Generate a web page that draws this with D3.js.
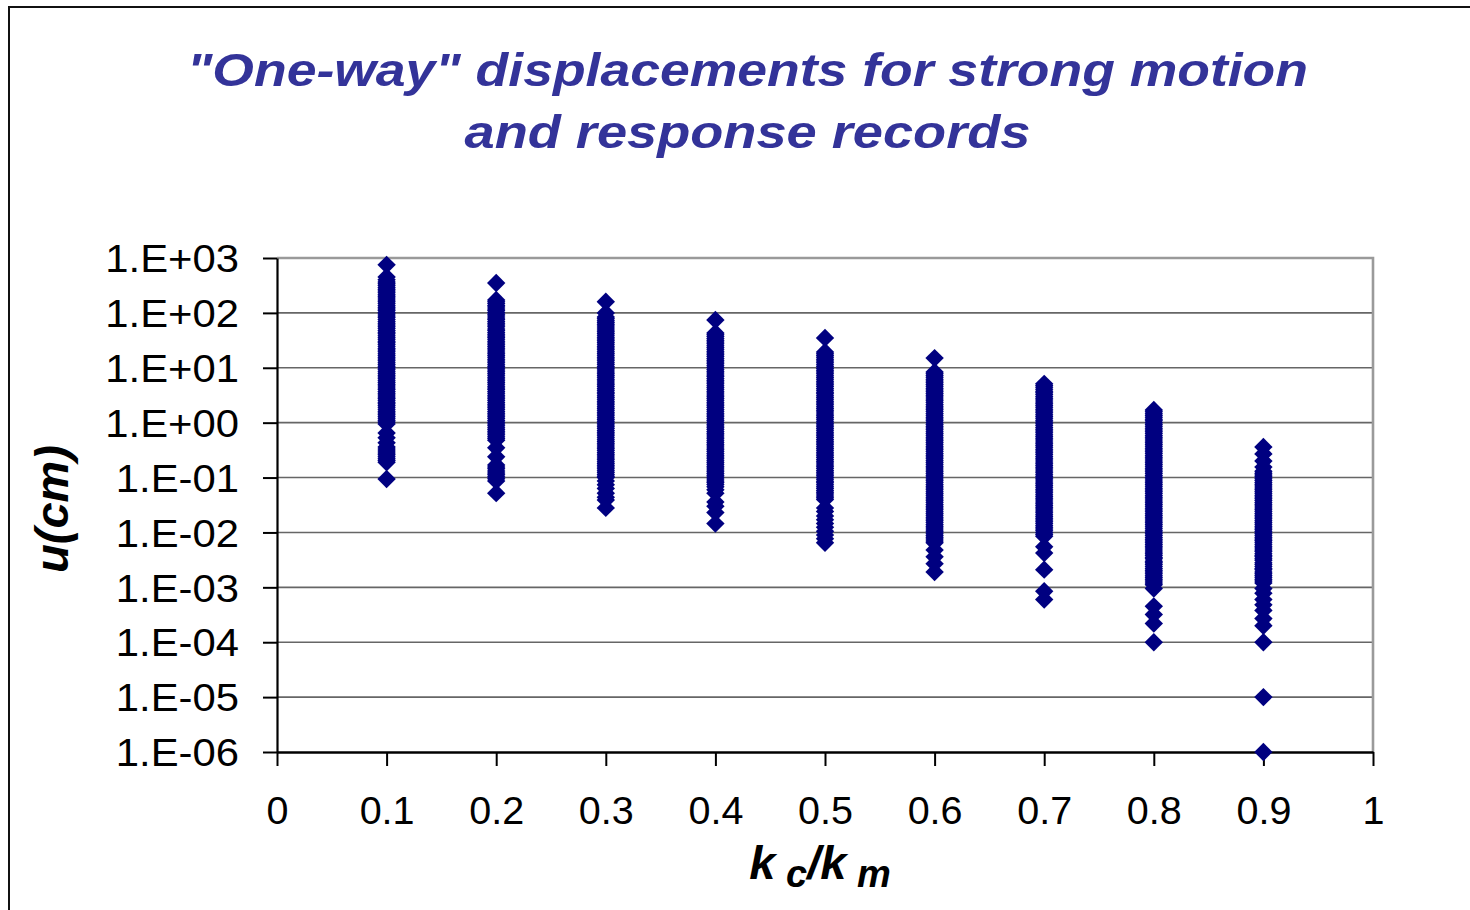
<!DOCTYPE html>
<html>
<head>
<meta charset="utf-8">
<script src="https://cdn.jsdelivr.net/npm/d3@7"></script>
<style>
  html, body { margin: 0; padding: 0; background: #fff; }
  svg { display: block; }
</style>
</head>
<body>
<svg id="chart" width="1470" height="910"></svg>
<script>
// Stiffness ratios kc/km at which the records were evaluated
const ratios = [0.1, 0.2, 0.3, 0.4, 0.5, 0.6, 0.7, 0.8, 0.9];

// One-way displacements u (cm) for each ratio
const u_01 = [750, 450, 400, 366, 340, 315, 290, 270, 250, 232, 215, 200, 186, 172, 160, 148, 137, 127, 118, 110, 102, 95, 88, 82, 76, 70, 65, 60, 56, 52, 48, 44.5, 41.5, 38.5, 35.5, 33, 30.5, 28.5, 26.5, 24.5, 22.5, 21, 19.5, 18, 16.8, 15.5, 14.4, 13.4, 12.4, 11.5, 10.7, 9.9, 9.2, 8.5, 7.9, 7.3, 6.8, 6.3, 5.8, 5.4, 5.0, 4.65, 4.3, 4.0, 3.7, 3.45, 3.2, 2.95, 2.75, 2.55, 2.35, 2.2, 2.05, 1.9, 1.75, 1.62, 1.5, 1.4, 1.3, 1.2, 1.11, 1.03, 0.95, 0.65, 0.53, 0.43, 0.36, 0.33, 0.305, 0.28, 0.26, 0.24, 0.22, 0.205, 0.19, 0.094];
const u_02 = [350, 172, 159, 148, 137, 128, 118, 110, 102, 94, 88, 81, 76, 70, 65, 60, 56, 51, 48, 44, 41, 38, 35.5, 33, 30.5, 28.2, 26.3, 24.3, 22.6, 21, 19.4, 18, 16.7, 15.5, 14.3, 13.3, 12.3, 11.4, 10.6, 9.8, 9.1, 8.5, 7.85, 7.3, 6.75, 6.25, 5.8, 5.4, 5.0, 4.6, 4.3, 4.0, 3.7, 3.42, 3.17, 2.94, 2.73, 2.53, 2.34, 2.17, 2.02, 1.87, 1.73, 1.6, 1.49, 1.38, 1.28, 1.19, 1.1, 1.02, 0.945, 0.875, 0.81, 0.75, 0.695, 0.645, 0.6, 0.555, 0.515, 0.48, 0.35, 0.24, 0.17, 0.155, 0.144, 0.132, 0.121, 0.112, 0.103, 0.095, 0.087, 0.052];
const u_03 = [160, 100, 84, 78, 72, 67, 62, 57.5, 53, 49, 45.5, 42, 39, 36, 33.5, 31, 28.8, 26.7, 24.7, 22.9, 21.2, 19.6, 18.2, 16.9, 15.6, 14.5, 13.4, 12.4, 11.5, 10.6, 9.8, 9.1, 8.4, 7.8, 7.2, 6.7, 6.2, 5.75, 5.3, 4.9, 4.55, 4.2, 3.9, 3.6, 3.35, 3.1, 2.87, 2.66, 2.46, 2.28, 2.11, 1.95, 1.81, 1.68, 1.55, 1.44, 1.33, 1.23, 1.14, 1.06, 0.98, 0.91, 0.84, 0.78, 0.72, 0.67, 0.62, 0.575, 0.53, 0.49, 0.455, 0.42, 0.39, 0.36, 0.335, 0.31, 0.287, 0.266, 0.246, 0.228, 0.211, 0.195, 0.181, 0.168, 0.155, 0.144, 0.133, 0.123, 0.114, 0.106, 0.1, 0.087, 0.074, 0.063, 0.052, 0.044, 0.039, 0.028];
const u_04 = [74, 43, 40, 37, 34.3, 31.8, 29.5, 27.3, 25.3, 23.4, 21.7, 20.1, 18.6, 17.2, 16, 14.8, 13.7, 12.7, 11.8, 10.9, 10.1, 9.35, 8.65, 8.0, 7.4, 6.9, 6.4, 5.9, 5.5, 5.1, 4.7, 4.35, 4.05, 3.75, 3.47, 3.2, 2.97, 2.75, 2.55, 2.36, 2.19, 2.03, 1.88, 1.74, 1.61, 1.49, 1.38, 1.28, 1.18, 1.1, 1.02, 0.94, 0.87, 0.81, 0.75, 0.69, 0.64, 0.595, 0.55, 0.51, 0.47, 0.437, 0.405, 0.375, 0.347, 0.32, 0.297, 0.275, 0.255, 0.236, 0.219, 0.203, 0.188, 0.174, 0.161, 0.149, 0.138, 0.128, 0.118, 0.11, 0.102, 0.094, 0.087, 0.081, 0.075, 0.068, 0.06, 0.052, 0.036, 0.03, 0.023, 0.0145];
const u_05 = [35, 19.4, 18, 16.7, 15.5, 14.3, 13.3, 12.3, 11.4, 10.5, 9.75, 9.0, 8.35, 7.75, 7.15, 6.65, 6.15, 5.7, 5.3, 4.9, 4.55, 4.2, 3.9, 3.6, 3.35, 3.1, 2.87, 2.66, 2.46, 2.28, 2.11, 1.96, 1.81, 1.68, 1.56, 1.44, 1.33, 1.24, 1.15, 1.06, 0.98, 0.91, 0.845, 0.78, 0.725, 0.67, 0.62, 0.575, 0.535, 0.495, 0.46, 0.425, 0.395, 0.365, 0.338, 0.313, 0.29, 0.269, 0.249, 0.231, 0.214, 0.198, 0.184, 0.17, 0.158, 0.146, 0.135, 0.125, 0.116, 0.108, 0.1, 0.093, 0.086, 0.08, 0.074, 0.068, 0.063, 0.058, 0.054, 0.05, 0.046, 0.043, 0.04, 0.028, 0.024, 0.02, 0.017, 0.0145, 0.0125, 0.0105, 0.009, 0.0077, 0.0065];
const u_06 = [15, 8.4, 7.8, 7.2, 6.7, 6.2, 5.75, 5.35, 4.95, 4.6, 4.25, 3.95, 3.65, 3.4, 3.15, 2.92, 2.7, 2.5, 2.32, 2.15, 2.0, 1.85, 1.72, 1.59, 1.47, 1.36, 1.26, 1.17, 1.08, 1.0, 0.93, 0.86, 0.8, 0.74, 0.685, 0.635, 0.59, 0.545, 0.505, 0.47, 0.435, 0.403, 0.373, 0.346, 0.32, 0.297, 0.275, 0.255, 0.236, 0.219, 0.203, 0.188, 0.174, 0.161, 0.149, 0.138, 0.128, 0.119, 0.11, 0.102, 0.0945, 0.0875, 0.081, 0.075, 0.0695, 0.0645, 0.0597, 0.0553, 0.0512, 0.0475, 0.044, 0.0408, 0.0378, 0.035, 0.0324, 0.03, 0.0278, 0.0258, 0.0239, 0.0221, 0.0205, 0.019, 0.0176, 0.0163, 0.0151, 0.014, 0.013, 0.012, 0.0111, 0.0103, 0.0095, 0.0088, 0.0082, 0.0076, 0.007, 0.0065, 0.0048, 0.0036, 0.0027, 0.0019];
const u_07 = [5.1, 4.75, 4.4, 4.05, 3.75, 3.5, 3.25, 3.0, 2.78, 2.58, 2.39, 2.21, 2.05, 1.9, 1.76, 1.63, 1.51, 1.4, 1.3, 1.2, 1.11, 1.03, 0.955, 0.885, 0.82, 0.76, 0.705, 0.653, 0.605, 0.56, 0.52, 0.482, 0.446, 0.413, 0.383, 0.355, 0.329, 0.305, 0.283, 0.262, 0.243, 0.225, 0.208, 0.193, 0.179, 0.166, 0.154, 0.143, 0.132, 0.122, 0.113, 0.105, 0.097, 0.09, 0.083, 0.077, 0.0715, 0.0663, 0.0614, 0.0569, 0.0527, 0.0488, 0.0452, 0.0419, 0.0388, 0.036, 0.0334, 0.031, 0.0287, 0.0266, 0.0246, 0.0228, 0.0211, 0.0196, 0.0182, 0.0168, 0.0156, 0.0145, 0.0134, 0.0124, 0.0115, 0.0107, 0.0099, 0.0092, 0.0085, 0.0055, 0.0042, 0.0021, 0.00085, 0.0006];
const u_08 = [1.7, 1.58, 1.46, 1.35, 1.25, 1.16, 1.08, 1.0, 0.925, 0.857, 0.794, 0.736, 0.682, 0.632, 0.585, 0.542, 0.502, 0.465, 0.431, 0.4, 0.37, 0.343, 0.318, 0.295, 0.273, 0.253, 0.234, 0.217, 0.201, 0.186, 0.173, 0.16, 0.148, 0.137, 0.127, 0.118, 0.109, 0.101, 0.094, 0.087, 0.0805, 0.0746, 0.0691, 0.064, 0.0593, 0.055, 0.051, 0.0472, 0.0437, 0.0405, 0.0375, 0.0348, 0.0322, 0.0299, 0.0277, 0.0256, 0.0237, 0.022, 0.0204, 0.0189, 0.0175, 0.0162, 0.015, 0.0139, 0.0129, 0.0119, 0.011, 0.0102, 0.0095, 0.0088, 0.0081, 0.0075, 0.007, 0.0065, 0.006, 0.0056, 0.0052, 0.0048, 0.0044, 0.0041, 0.0038, 0.0035, 0.0033, 0.003, 0.0028, 0.0026, 0.0024, 0.0022, 0.00205, 0.0019, 0.00176, 0.00163, 0.00151, 0.0014, 0.0013, 0.0012, 0.00112, 0.00095, 0.00045, 0.00032, 0.00022, 0.0001];
const u_09 = [0.36, 0.27, 0.2, 0.155, 0.13, 0.12, 0.111, 0.103, 0.095, 0.088, 0.0815, 0.0755, 0.07, 0.0648, 0.06, 0.0556, 0.0515, 0.0477, 0.0442, 0.041, 0.038, 0.0352, 0.0326, 0.0302, 0.028, 0.0259, 0.024, 0.0222, 0.0206, 0.0191, 0.0177, 0.0164, 0.0152, 0.0141, 0.013, 0.0121, 0.0112, 0.0104, 0.0096, 0.0089, 0.0082, 0.0076, 0.0071, 0.0066, 0.0061, 0.0056, 0.0052, 0.0048, 0.0045, 0.0041, 0.0038, 0.0036, 0.0033, 0.0031, 0.0028, 0.0026, 0.0024, 0.0022, 0.0021, 0.0019, 0.00177, 0.00164, 0.00152, 0.0014, 0.0013, 0.0012, 0.00095, 0.00078, 0.0006, 0.00048, 0.00038, 0.00027, 0.0002, 0.0001, 0.00001, 0.000001];

const xTickValues = [0, 0.1, 0.2, 0.3, 0.4, 0.5, 0.6, 0.7, 0.8, 0.9, 1];
const xTickLabels = ["0", "0.1", "0.2", "0.3", "0.4", "0.5", "0.6", "0.7", "0.8", "0.9", "1"];
const yTickValues = [1e3, 1e2, 1e1, 1e0, 1e-1, 1e-2, 1e-3, 1e-4, 1e-5, 1e-6];
const yTickLabels = ["1.E+03", "1.E+02", "1.E+01", "1.E+00", "1.E-01", "1.E-02", "1.E-03", "1.E-04", "1.E-05", "1.E-06"];

const titleLines = ['"One-way" displacements for strong motion', 'and response records'];

const columns = [u_01, u_02, u_03, u_04, u_05, u_06, u_07, u_08, u_09];
const points = [];
ratios.forEach((r, i) => columns[i].forEach(v => points.push({ r, v })));

const svg = d3.select("#chart");
const FONT = "'Liberation Sans', Arial, Helvetica, sans-serif";

// Plot area
const plot = { left: 277, right: 1373, top: 258, bottom: 752 };
const x = d3.scaleLinear().domain([0, 1]).range([plot.left, plot.right]);
const y = d3.scaleLog().domain([1e-6, 1e3]).range([plot.bottom, plot.top]);

// Outer chart frame
svg.append("rect")
  .attr("x", 9).attr("y", 7)
  .attr("width", 1500).attr("height", 950)
  .attr("fill", "none").attr("stroke", "#111").attr("stroke-width", 2);

// Title
const title = svg.append("g")
  .attr("font-family", FONT).attr("font-weight", "bold").attr("font-style", "italic")
  .attr("font-size", 46).attr("fill", "#333399").attr("text-anchor", "middle");
title.append("text").attr("x", 747.5).attr("y", 86).text(titleLines[0])
  .attr("textLength", 1121).attr("lengthAdjust", "spacingAndGlyphs");
title.append("text").attr("x", 747.5).attr("y", 148).text(titleLines[1])
  .attr("textLength", 566).attr("lengthAdjust", "spacingAndGlyphs");

// Horizontal gridlines at every decade
svg.append("g").selectAll("line")
  .data(yTickValues.filter(d => d > 1e-6 && d < 1e3))
  .join("line")
  .attr("x1", plot.left).attr("x2", plot.right)
  .attr("y1", d => y(d)).attr("y2", d => y(d))
  .attr("stroke", "#666").attr("stroke-width", 1.6);

// Plot area top and right edges
svg.append("path")
  .attr("d", `M${plot.left},${y(1e3)}H${plot.right}V${plot.bottom}`)
  .attr("fill", "none").attr("stroke", "#9a9a9a").attr("stroke-width", 2.6);

// Y axis
const yAxis = svg.append("g")
  .attr("transform", `translate(${plot.left},0)`)
  .call(d3.axisLeft(y).tickValues(yTickValues)
    .tickFormat((d, i) => yTickLabels[i]).tickSize(14).tickSizeOuter(0).tickPadding(24));
yAxis.select(".domain").attr("stroke", "#000").attr("stroke-width", 2.2);
yAxis.selectAll(".tick line").attr("stroke", "#000").attr("stroke-width", 2);
yAxis.selectAll(".tick text")
  .attr("font-family", FONT).attr("font-size", 38).attr("fill", "#000")
  .attr("dy", "0.36em")
  .each(function () {
    const w = this.getComputedTextLength();
    d3.select(this).attr("textLength", w * 1.1).attr("lengthAdjust", "spacingAndGlyphs");
  });

// X axis
const xAxis = svg.append("g")
  .attr("transform", `translate(0,${plot.bottom})`)
  .call(d3.axisBottom(x).tickValues(xTickValues)
    .tickFormat((d, i) => xTickLabels[i]).tickSize(14).tickSizeOuter(0).tickPadding(31));
xAxis.select(".domain").attr("stroke", "#000").attr("stroke-width", 2.6);
xAxis.selectAll(".tick line").attr("stroke", "#000").attr("stroke-width", 2);
xAxis.selectAll(".tick text")
  .attr("font-family", FONT).attr("font-size", 38).attr("fill", "#000")
  .attr("dy", "0.71em")
  .each(function () {
    const w = this.getComputedTextLength();
    d3.select(this).attr("textLength", w * 1.04).attr("lengthAdjust", "spacingAndGlyphs");
  });

// Diamond markers
const half = 9.2;
const diamond = `M0,${-half}L${half},0L0,${half}L${-half},0Z`;
svg.append("g").selectAll("path")
  .data(points)
  .join("path")
  .attr("d", diamond)
  .attr("transform", d => `translate(${x(d.r)},${y(d.v)})`)
  .attr("fill", "#000080");

// Axis titles
svg.append("text")
  .attr("transform", `translate(68,509) rotate(-90)`)
  .attr("text-anchor", "middle")
  .attr("font-family", FONT).attr("font-weight", "bold").attr("font-style", "italic")
  .attr("font-size", 47).attr("fill", "#000")
  .text("u(cm)");

const xt = svg.append("text")
  .attr("x", 820).attr("y", 879)
  .attr("text-anchor", "middle")
  .attr("font-family", FONT).attr("font-weight", "bold").attr("font-style", "italic")
  .attr("font-size", 47).attr("fill", "#000");
xt.append("tspan").text("k");
xt.append("tspan").attr("font-size", 38).attr("dy", 8).text(" c");
xt.append("tspan").attr("dy", -8).text("/k");
xt.append("tspan").attr("font-size", 38).attr("dy", 8).text(" m");
</script>
</body>
</html>
